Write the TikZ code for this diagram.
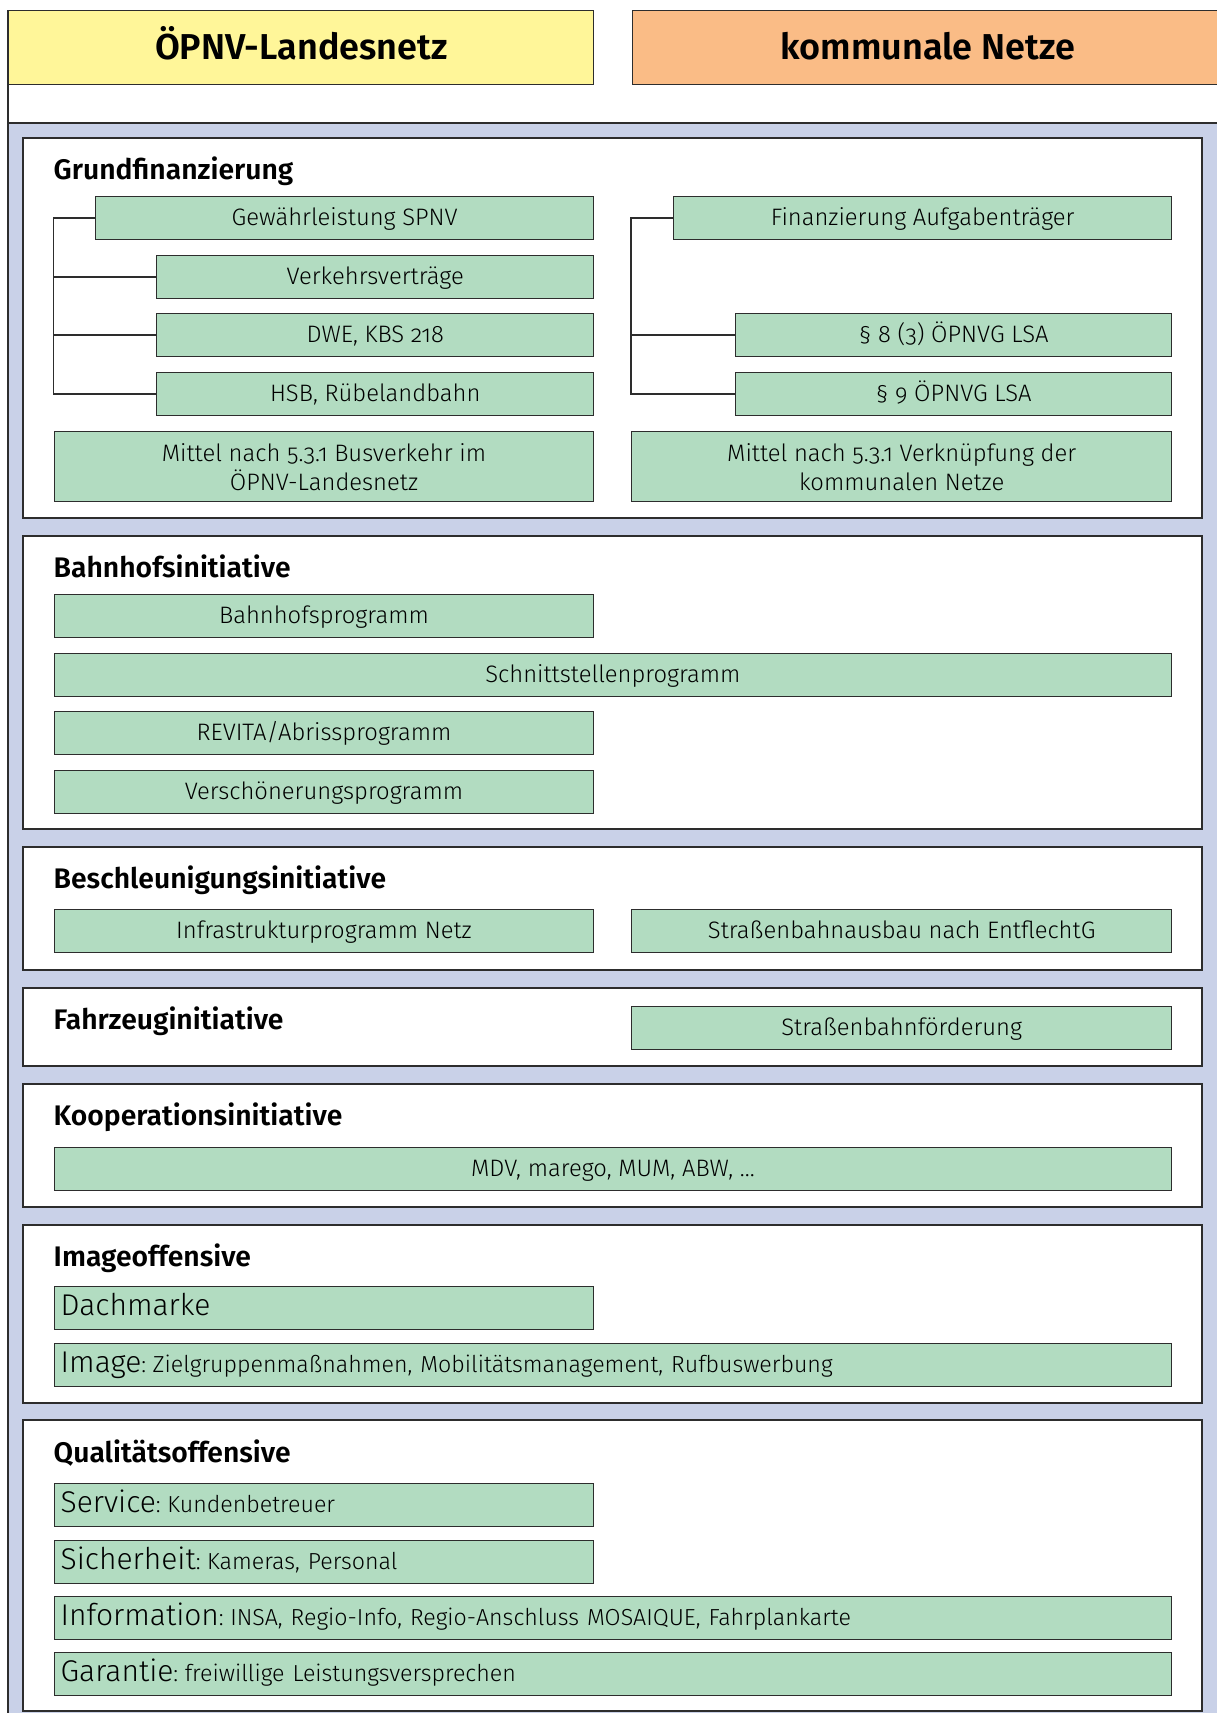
\documentclass[tikz,border=0pt]{standalone}
\usepackage{fontspec}
\setmainfont{Fira Sans}[UprightFont={* Light}, BoldFont={* SemiBold}, Numbers=OldStyle]
\definecolor{lc}{RGB}{45,45,45}
\definecolor{yel}{RGB}{255,246,153}
\definecolor{ora}{RGB}{250,188,134}
\definecolor{grn}{RGB}{178,220,193}
\definecolor{blu}{RGB}{201,209,232}
\newcommand\bigw[1]{{\fontsize{30}{31}\selectfont #1}}
\newcommand\mixline[2]{\bigw{#1}{\fontsize{23.2}{28}\selectfont:\hspace{6.5pt}#2}}
\begin{document}
\begin{tikzpicture}[x=1pt,y=-1pt,
  gbase/.style={draw=lc, fill=grn, line width=1.4pt, inner sep=0pt, minimum height=43pt, anchor=north west, font=\fontsize{23.8}{29}\selectfont},
  gbox/.style={gbase, text height=17pt, text depth=2pt},
  mbox/.style={gbase, minimum height=70pt, align=center},
  lft/.style={gbox, align=left, text width=#1-13pt, minimum width=#1},
  half/.style={minimum width=539.5pt},
  full/.style={minimum width=1117.5pt},
  panel/.style={draw=lc, fill=white, line width=1.4pt},
  ptitle/.style={anchor=base west, inner sep=0pt, font=\bfseries\fontsize{28.3}{32}\selectfont},
  conn/.style={draw=lc, line width=1.6pt},
  hbox/.style={line width=1.4pt, inner sep=0pt, minimum height=74pt, anchor=north west, font=\bfseries\fontsize{36}{40}\selectfont, text height=26pt, text depth=2pt}]
\useasboundingbox (0,0) rectangle (1216,1713);
% background band
\fill[blu] (8,123) rectangle (1240,1740);
\draw[lc, line width=1.4pt] (8,10) -- (8,1740);
\draw[lc, line width=1.4pt] (8,123) -- (1240,123);
% headers
\node[hbox, draw=lc, fill=yel, minimum width=585pt] (h1) at (8,10) {ÖPNV-Landesnetz};
\node[hbox, draw=lc, fill=ora, minimum width=590pt] (h2) at (632,10) {kommunale Netze};
% panels
\draw[panel] (23,138) rectangle (1202,518);
\draw[panel] (23,536) rectangle (1202,829);
\draw[panel] (23,847) rectangle (1202,970);
\draw[panel] (23,988) rectangle (1202,1066);
\draw[panel] (23,1084) rectangle (1202,1207);
\draw[panel] (23,1225) rectangle (1202,1403);
\draw[panel] (23,1420) rectangle (1202,1711);
% Grundfinanzierung
\node[ptitle] (t1) at (53.5,179) {Grundfinanzierung};
\node[gbox, minimum width=498pt] (gew) at (95,196) {Gewährleistung SPNV};
\node[gbox, minimum width=437pt] (vv) at (156,255) {Verkehrsverträge};
\node[gbox, minimum width=437pt] (dwe) at (156,313) {DWE, KBS 218};
\node[gbox, minimum width=437pt] (hsb) at (156,372) {HSB, Rübelandbahn};
\node[mbox, half] (mL) at (53.5,431) {Mittel nach 5.3.1 Busverkehr im\\ÖPNV-Landesnetz};
\node[gbox, minimum width=498pt] (fin) at (673,196) {Finanzierung Aufgabenträger};
\node[gbox, minimum width=436pt] (p8) at (735,313) {§ 8 (3) ÖPNVG LSA};
\node[gbox, minimum width=436pt] (p9) at (735,372) {§ 9 ÖPNVG LSA};
\node[mbox, minimum width=540pt] (mR) at (631,431) {Mittel nach 5.3.1 Verknüpfung der\\kommunalen Netze};
\draw[conn] (gew.west) -- (gew.west -| mL.west) |- (hsb.west);
\draw[conn] (vv.west) -- (vv.west -| mL.west);
\draw[conn] (dwe.west) -- (dwe.west -| mL.west);
\draw[conn] (fin.west) -- (fin.west -| mR.west) |- (p9.west);
\draw[conn] (p8.west) -- (p8.west -| mR.west);
% Bahnhofsinitiative
\node[ptitle] (t2) at (53.5,577) {Bahnhofsinitiative};
\node[gbox, half] (bp) at (53.5,594) {Bahnhofsprogramm};
\node[gbox, full] (sp) at (53.5,653) {Schnittstellenprogramm};
\node[gbox, half] (rv) at (53.5,711) {REVITA/Abrissprogramm};
\node[gbox, half] (vs) at (53.5,770) {Verschönerungsprogramm};
% Beschleunigungsinitiative
\node[ptitle] (t3) at (53.5,888) {Beschleunigungsinitiative};
\node[gbox, half] (ip) at (53.5,909) {Infrastrukturprogramm Netz};
\node[gbox, minimum width=540pt] (sb) at (631,909) {Straßenbahnausbau nach EntflechtG};
% Fahrzeuginitiative
\node[ptitle] (t4) at (53.5,1029) {Fahrzeuginitiative};
\node[gbox, minimum width=540pt] (sf) at (631,1006) {Straßenbahnförderung};
% Kooperationsinitiative
\node[ptitle] (t5) at (53.5,1125) {Kooperationsinitiative};
\node[gbox, full] (mdv) at (53.5,1147) {MDV, marego, MUM, ABW, …};
% Imageoffensive
\node[ptitle] (t6) at (53.5,1266) {Imageoffensive};
\node[lft=539.5pt] (dm) at (53.5,1286) {\bigw{Dachmarke}};
\node[lft=1117.5pt] (img) at (53.5,1343) {\mixline{Image}{Zielgruppenmaßnahmen, Mobilitätsmanagement, Rufbuswerbung}};
% Qualitaetsoffensive
\node[ptitle] (t7) at (53.5,1462) {Qualitätsoffensive};
\node[lft=539.5pt] (svc) at (53.5,1483) {\mixline{Service}{Kundenbetreuer}};
\node[lft=539.5pt] (sic) at (53.5,1540) {\mixline{Sicherheit}{Kameras, Personal}};
\node[lft=1117.5pt] (inf) at (53.5,1596) {\mixline{Information}{INSA, Regio-Info, Regio-Anschluss MOSAIQUE, Fahrplankarte}};
\node[lft=1117.5pt] (gar) at (53.5,1652) {\mixline{Garantie}{freiwillige Leistungsversprechen}};
\end{tikzpicture}
\end{document}
